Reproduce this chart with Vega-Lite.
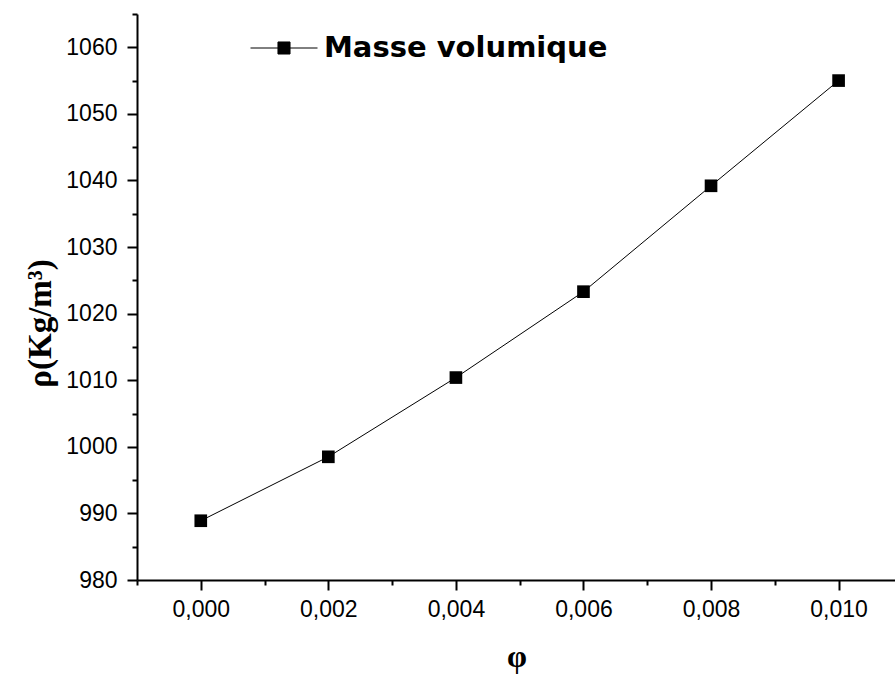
{
  "$schema": "https://vega.github.io/schema/vega-lite/v6.json",
  "autosize": "none",
  "padding": {"left": 137, "top": 14, "right": 0, "bottom": 96},
  "width": 759,
  "height": 566,
  "background": "white",
  "config": {"view": {"stroke": null}},
  "data": {"values": [
    {"phi": 0.000, "rho": 988.9, "series": "Masse volumique"},
    {"phi": 0.002, "rho": 998.5, "series": "Masse volumique"},
    {"phi": 0.004, "rho": 1010.4, "series": "Masse volumique"},
    {"phi": 0.006, "rho": 1023.3, "series": "Masse volumique"},
    {"phi": 0.008, "rho": 1039.2, "series": "Masse volumique"},
    {"phi": 0.010, "rho": 1055.0, "series": "Masse volumique"}
  ]},
  "encoding": {
    "x": {"field": "phi", "type": "quantitative",
      "scale": {"domain": [-0.001, 0.0109], "nice": false, "zero": false},
      "axis": {
        "title": "φ", "titleFont": "Liberation Serif", "titleFontWeight": "bold", "titleFontSize": 32, "titleColor": "black", "titlePadding": 20,
        "values": [-0.001, 0, 0.001, 0.002, 0.003, 0.004, 0.005, 0.006, 0.007, 0.008, 0.009, 0.010],
        "labelExpr": "abs(round(datum.value*1000)) % 2 == 1 ? '' : replace(format(datum.value, '.3f'), '.', ',')",
        "labelFont": "Liberation Sans", "labelFontSize": 23, "labelColor": "black", "labelPadding": 8,
        "tickSize": {"condition": {"test": "abs(round(datum.value*1000)) % 2 == 1", "value": 5}, "value": 10},
        "tickColor": "black", "tickWidth": 2, "domainColor": "black", "domainWidth": 2, "grid": false, "labelFlush": false, "labelOverlap": false
      }
    },
    "y": {"field": "rho", "type": "quantitative",
      "scale": {"domain": [980, 1065], "nice": false, "zero": false},
      "axis": {
        "title": "ρ(Kg/m³)", "titleFont": "Liberation Serif", "titleFontWeight": "bold", "titleFontSize": 33, "titleColor": "black", "titlePadding": 8, "titleY": 309,
        "values": [980, 985, 990, 995, 1000, 1005, 1010, 1015, 1020, 1025, 1030, 1035, 1040, 1045, 1050, 1055, 1060, 1065],
        "labelExpr": "datum.value % 10 == 5 ? '' : format(datum.value, 'd')",
        "labelFont": "Liberation Sans", "labelFontSize": 23, "labelColor": "black", "labelPadding": 10,
        "tickSize": {"condition": {"test": "datum.value % 10 == 5", "value": 5}, "value": 10},
        "tickColor": "black", "tickWidth": 2, "domainColor": "black", "domainWidth": 2, "grid": false, "labelOverlap": false
      }
    }
  },
  "layer": [
    {"mark": {"type": "line", "color": "black", "strokeWidth": 1}},
    {"mark": {"type": "square", "opacity": 1, "filled": true, "size": 160},
      "encoding": {
        "color": {"field": "series", "type": "nominal", "scale": {"range": ["black"]},
          "legend": {
            "title": null, "orient": "none", "legendX": 113, "legendY": 0,
            "symbolType": "M-1,0L-0.18,0M-0.18,-0.18L0.18,-0.18L0.18,0.18L-0.18,0.18ZM0.18,0L1,0",
            "symbolSize": 4489, "symbolStrokeWidth": 1, "symbolStrokeColor": "black", "symbolFillColor": "black",
            "labelFont": "DejaVu Sans", "labelFontWeight": "bold", "labelFontSize": 29, "labelColor": "black", "labelOffset": 6, "labelLimit": 0
          }
        }
      }
    }
  ]
}
